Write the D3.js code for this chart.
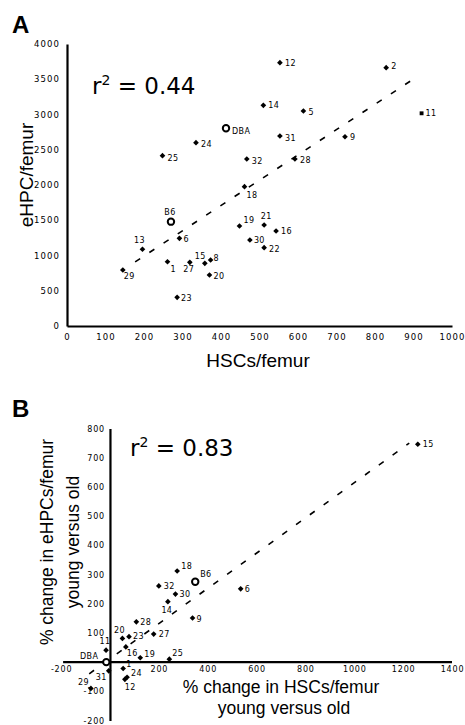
<!DOCTYPE html>
<html>
<head>
<meta charset="utf-8">
<script src="https://cdn.jsdelivr.net/npm/d3@7"></script>
<style>
  body { margin: 0; background: #fff; }
  svg { display: block; }
  .tick text { font-family: "DejaVu Sans", sans-serif; fill: #000; }
  .title { font-family: "Liberation Sans", Arial, sans-serif; fill: #000; }
  .r2 { font-family: "DejaVu Sans", sans-serif; fill: #000; }
  .ptlabel { font-family: "DejaVu Sans", sans-serif; font-size: 8px; letter-spacing: 0.4px; fill: #000; }
</style>
</head>
<body>
<div id="chart"></div>
<script>

///////////////////////////////////////////////////////////////////////////
////////////////////////////////// Data ///////////////////////////////////
///////////////////////////////////////////////////////////////////////////

// Panel A : absolute numbers per femur
var strainsA = ["12","2","11","14","5","DBA","31","9","24","25","32","28","18","B6","19","21","16","6","30","13","22","1","27","15","8","29","20","23"]
var hscA     = [553, 829, 921, 510, 614, 413, 553, 722, 335, 248, 467, 592, 461, 270, 448, 512, 543, 292, 475, 196, 512, 261, 319, 358, 373, 145, 370, 286]
var ehpcA    = [3735,3664,3017,3130,3050,2804,2695,2685,2600,2416,2369,2369,1976,1480,1418,1433,1348,1244,1220,1088,1111, 912, 903, 889, 936, 794, 723, 407]
var trendA   = [[177, 910], [912, 3546]]
var xTicksA  = [0,100,200,300,400,500,600,700,800,900,1000]
var yTicksA  = [0,500,1000,1500,2000,2500,3000,3500,4000]

// Panel B : % change young versus old
var strainsB = ["15","18","B6","32","30","6","14","9","28","27","23","20","11","16","19","25","DBA","1","31","24","12","29"]
var hscB     = [1260, 275, 349, 200, 268, 535, 237, 338, 108, 179,  78,  51, -16,  65, 124, 243, -15,  54,  -5,  70,  61, -78]
var ehpcB    = [ 746, 312, 275, 261, 233, 251, 207, 151, 138,  96,  87,  81,  41,  52,  15,  10,   0, -22, -30, -52, -59, -90]
var trendB   = [[-85, -40], [1225, 750]]
var xTicksB  = [-200,200,400,600,800,1000,1200,1400]
var yTicksB  = [-200,-100,100,200,300,400,500,600,700,800]

var refStrains = ["DBA", "B6"]
var squareStrains = ["11"]

///////////////////////////////////////////////////////////////////////////
///////////////////////////////// Globals /////////////////////////////////
///////////////////////////////////////////////////////////////////////////

var canvasDim = { width: 465, height: 725 }

// where each point label sits relative to its marker: [dx, dy, anchor]
var labelPosA = {
  "12": [5, 3, "start"], "2": [5, 1, "start"], "11": [4, 3, "start"], "14": [5, 3, "start"],
  "5": [5, 4, "start"], "DBA": [6, 6, "start"], "31": [5, 5, "start"], "9": [5, 3, "start"],
  "24": [5, 4, "start"], "25": [5, 5, "start"], "32": [5, 5, "start"], "28": [5, 4, "start"],
  "18": [2, 11, "start"], "B6": [-1, -7, "middle"], "19": [4, -3, "start"], "21": [2, -6, "middle"],
  "16": [5, 3, "start"], "6": [4, 4, "start"], "30": [4, 3, "start"], "13": [-3, -6, "middle"],
  "22": [5, 4, "start"], "1": [3, 10, "start"], "27": [-1, 10, "middle"], "15": [1, -4, "end"],
  "8": [3, 1, "start"], "29": [1, 9, "start"], "20": [4, 4, "start"], "23": [4, 4, "start"]
}
var labelPosB = {
  "15": [5, 3, "start"], "18": [4, -2, "start"], "B6": [5, -5, "start"], "32": [5, 3, "start"],
  "30": [4, 3, "start"], "6": [4, 3, "start"], "14": [-1, 11, "middle"], "9": [4, 4, "start"],
  "28": [4, 3, "start"], "27": [5, 3, "start"], "23": [4, 2, "start"], "20": [-3, -5, "middle"],
  "11": [-1, -6, "middle"], "16": [1, 9, "start"], "19": [4, -1, "start"], "25": [3, -3, "start"],
  "DBA": [-8, -3, "end"], "1": [3, -2, "start"], "31": [-2, 9, "end"], "24": [4, -1, "start"],
  "12": [0, 11, "start"], "29": [-2, -3, "end"]
}

///////////////////////////////////////////////////////////////////////////
///////////////////////////// Create scales ///////////////////////////////
///////////////////////////////////////////////////////////////////////////

var xA = d3.scaleLinear().domain([0, 1000]).range([67, 452])
var yA = d3.scaleLinear().domain([0, 4000]).range([326, 44])

var xB = d3.scaleLinear().domain([-200, 1400]).range([61.1, 452])
var yB = d3.scaleLinear().domain([-200, 800]).range([720.5, 428.5])

var plainNum = function (d) { return String(d) }

///////////////////////////////////////////////////////////////////////////
//////////////////////////////////// CORE /////////////////////////////////
///////////////////////////////////////////////////////////////////////////

var svg = d3.select("#chart").append("svg")
  .attr("width", canvasDim.width)
  .attr("height", canvasDim.height)

drawPanelA()
drawPanelB()

function drawPanelA() {
  var g = svg.append("g").attr("class", "panelA")

  // axes
  var yAxis = g.append("g")
    .attr("transform", "translate(" + xA(0) + ",0)")
    .call(d3.axisLeft(yA).tickValues(yTicksA).tickSize(0).tickPadding(7).tickFormat(plainNum))
  var xAxis = g.append("g")
    .attr("transform", "translate(0," + yA(0) + ")")
    .call(d3.axisBottom(xA).tickValues(xTicksA).tickSize(0).tickPadding(8).tickFormat(plainNum))
  styleAxis(yAxis, 8.5, 1.1)
  styleAxis(xAxis, 8.5, 1.1)

  drawTrend(g, trendA, xA, yA)
  drawPoints(g, strainsA, hscA, ehpcA, xA, yA, labelPosA)

  // titles
  g.append("text").attr("class", "title")
    .attr("x", 12).attr("y", 33)
    .style("font-size", "24px").style("font-weight", "bold")
    .text("A")
  g.append("text").attr("class", "title")
    .attr("transform", "translate(33,175) rotate(-90)")
    .attr("text-anchor", "middle")
    .style("font-size", "19px")
    .text("eHPC/femur")
  g.append("text").attr("class", "title")
    .attr("x", 258).attr("y", 367)
    .attr("text-anchor", "middle")
    .style("font-size", "19px")
    .text("HSCs/femur")

  drawR2(g, 92, 94, "0.44")
}

function drawPanelB() {
  var g = svg.append("g").attr("class", "panelB")

  var yAxis = g.append("g")
    .attr("transform", "translate(" + xB(0) + ",0)")
    .call(d3.axisLeft(yB).tickValues(yTicksB).tickSize(0).tickPadding(5).tickFormat(plainNum))
  var xAxis = g.append("g")
    .attr("transform", "translate(0," + yB(0) + ")")
    .call(d3.axisBottom(xB).tickValues(xTicksB).tickSize(0).tickPadding(4).tickFormat(plainNum))
  styleAxis(yAxis, 8, 0.8)
  styleAxis(xAxis, 8, 0.8)
  xAxis.select(".domain").attr("d", "M" + (xB(-200) + 2) + ",0H" + xB(1400))

  drawTrend(g, trendB, xB, yB)
  drawPoints(g, strainsB, hscB, ehpcB, xB, yB, labelPosB)

  g.append("text").attr("class", "title")
    .attr("x", 12).attr("y", 417)
    .style("font-size", "24px").style("font-weight", "bold")
    .text("B")

  var yl = g.append("text").attr("class", "title")
    .attr("transform", "translate(53,542) rotate(-90)")
    .attr("text-anchor", "middle")
    .style("font-size", "17.5px")
  yl.append("tspan").attr("x", 0).attr("dy", 0).text("% change in eHPCs/femur")
  yl.append("tspan").attr("x", 0).attr("dy", 26).text("young versus old")

  var xl = g.append("text").attr("class", "title")
    .attr("text-anchor", "middle")
    .style("font-size", "17.5px")
  xl.append("tspan").attr("x", 281).attr("y", 693).text("% change in HSCs/femur")
  xl.append("tspan").attr("x", 284).attr("y", 714).text("young versus old")

  drawR2(g, 130, 456, "0.83")
}

///////////////////////////////////////////////////////////////////////////
///////////////////////////// Helper functions ////////////////////////////
///////////////////////////////////////////////////////////////////////////

function styleAxis(axis, size, spacing) {
  axis.select(".domain").attr("stroke", "#000").attr("stroke-width", 2.2)
  axis.selectAll(".tick text")
    .style("font-size", size + "px")
    .style("letter-spacing", spacing + "px")
}

function drawTrend(g, pts, x, y) {
  g.append("path")
    .datum(pts)
    .attr("fill", "none")
    .attr("stroke", "#000")
    .attr("stroke-width", 1.6)
    .attr("stroke-dasharray", "6,11")
    .attr("d", d3.line().x(function (d) { return x(d[0]) }).y(function (d) { return y(d[1]) }))
}

function drawPoints(g, names, xs, ys, x, y, labelPos) {
  var pts = names.map(function (n, i) { return { name: n, vx: xs[i], vy: ys[i] } })

  var nodes = g.selectAll(".pt").data(pts).enter().append("g")
    .attr("class", "pt")
    .attr("transform", function (d) { return "translate(" + x(d.vx) + "," + y(d.vy) + ")" })

  nodes.each(function (d) {
    var node = d3.select(this)
    if (refStrains.indexOf(d.name) >= 0) {
      node.append("circle").attr("r", 3.2)
        .attr("fill", "#fff").attr("stroke", "#000").attr("stroke-width", 2)
    } else if (squareStrains.indexOf(d.name) >= 0 && labelPos === labelPosA) {
      node.append("path").attr("d", d3.symbol(d3.symbolSquare, 15)()).attr("fill", "#000")
    } else {
      node.append("path").attr("d", d3.symbol(d3.symbolSquare, 16)())
        .attr("transform", "rotate(45)").attr("fill", "#000")
    }
  })

  nodes.append("text")
    .attr("class", "ptlabel")
    .attr("x", function (d) { return labelPos[d.name][0] })
    .attr("y", function (d) { return labelPos[d.name][1] })
    .attr("text-anchor", function (d) { return labelPos[d.name][2] })
    .text(function (d) { return d.name })
}

function drawR2(g, x, y, val) {
  var t = g.append("text").attr("class", "r2")
    .attr("x", x).attr("y", y)
    .style("font-size", "23px")
  t.append("tspan").text("r")
  t.append("tspan").attr("dy", -9).style("font-size", "14px").text("2")
  t.append("tspan").attr("dy", 9).text(" = " + val)
}

</script>
</body>
</html>
